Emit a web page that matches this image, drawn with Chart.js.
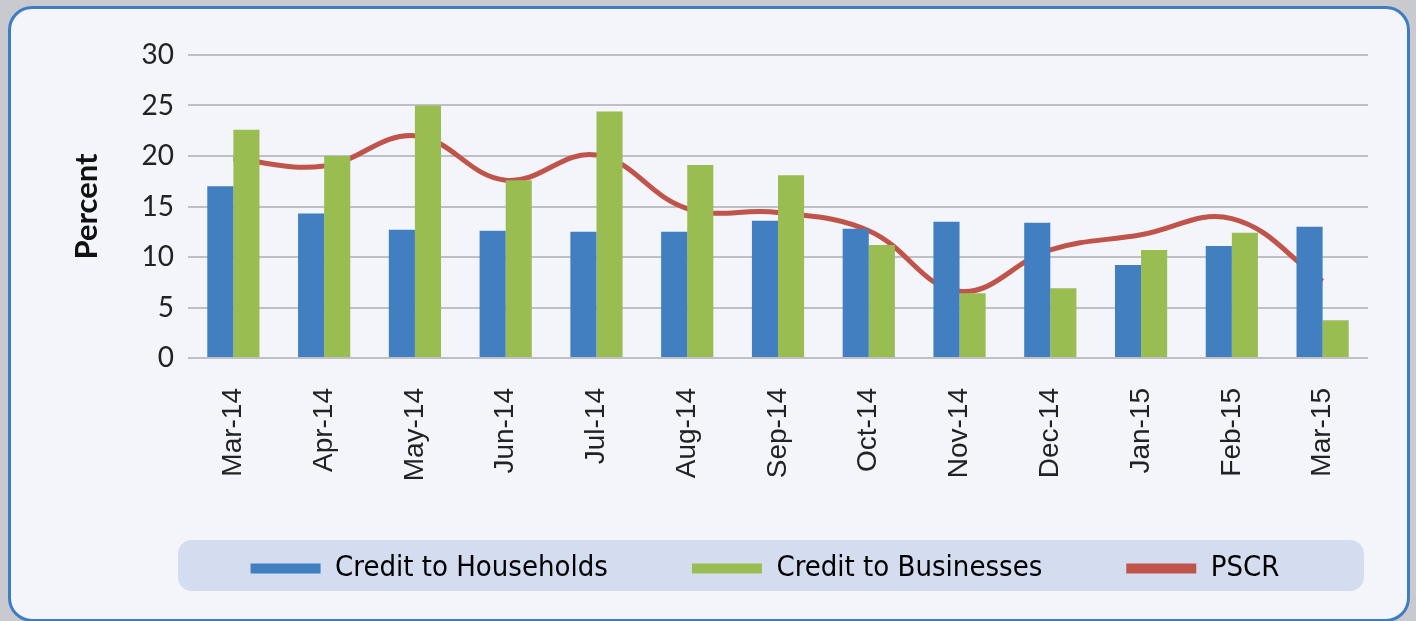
<!DOCTYPE html>
<html>
<head>
<meta charset="utf-8">
<script src="https://cdn.jsdelivr.net/npm/chart.js@4.4.1/dist/chart.umd.min.js"></script>
<style>
  html, body { margin: 0; padding: 0; width: 1416px; height: 621px; overflow: hidden; background: #c9cacf; }
  #frame { position: absolute; left: 8px; top: 6px; width: 1396px; height: 610px; border: 3.5px solid #3f7dc3; border-radius: 24px; background: #f3f5fa; }
  #wrap { position: absolute; left: 0; top: 0; width: 1416px; height: 621px; }
</style>
</head>
<body>
<div id="frame"></div>
<div id="wrap"><canvas id="c" width="1416" height="621"></canvas></div>
<script>
const categories = ["Mar-14","Apr-14","May-14","Jun-14","Jul-14","Aug-14","Sep-14","Oct-14","Nov-14","Dec-14","Jan-15","Feb-15","Mar-15"];
const households = [17.0, 14.3, 12.7, 12.6, 12.5, 12.5, 13.6, 12.8, 13.5, 13.4, 9.2, 11.1, 13.0];
const businesses = [22.6, 20.0, 25.0, 17.6, 24.4, 19.1, 18.1, 11.2, 6.4, 6.9, 10.7, 12.4, 3.75];
const pscr = [19.7, 19.0, 22.0, 17.6, 20.1, 14.8, 14.4, 12.6, 6.6, 10.7, 12.2, 13.8, 7.6];
const yTicks = [0, 5, 10, 15, 20, 25, 30];

// Legend panel: rounded background, legend row re-centred inside it
const legendPanel = {
  id: 'legendPanel',
  beforeDraw(chart) {
    const ctx = chart.ctx, ca = chart.chartArea, lg = chart.legend;
    const x = ca.left - 10, y = 540, w = (ca.right - 4) - x, h = 51, r = 14;
    ctx.save();
    ctx.fillStyle = '#d4ddef';
    ctx.beginPath();
    ctx.roundRect(x, y, w, h, r);
    ctx.fill();
    ctx.restore();
    const lh = lg.bottom - lg.top;
    lg.left = ca.left - 26;
    lg.right = ca.right;
    lg.top = 470;
    lg.bottom = 470 + lh;
  }
};

new Chart(document.getElementById('c'), {
  data: {
    labels: categories,
    datasets: [
      { type: 'bar', label: 'Credit to Households', data: households, backgroundColor: '#417fc1', order: 1,
        categoryPercentage: 0.575, barPercentage: 1.0 },
      { type: 'bar', label: 'Credit to Businesses', data: businesses, backgroundColor: '#99bd50', order: 1,
        categoryPercentage: 0.575, barPercentage: 1.0 },
      { type: 'line', label: 'PSCR', data: pscr, borderColor: '#c0544a', backgroundColor: '#c0544a', borderWidth: 5,
        pointRadius: 0, tension: 0.4, order: 2, fill: false }
    ]
  },
  options: {
    responsive: false,
    animation: false,
    devicePixelRatio: 1,
    layout: { padding: { left: 0, right: 48, top: 55, bottom: 15 } },
    plugins: {
      tooltip: { enabled: false },
      legend: {
        position: 'bottom',
        labels: {
          boxWidth: 70, boxHeight: 10, padding: 84,
          color: '#222',
          font: { family: 'DejaVu Sans Condensed', size: 29 },
          generateLabels(chart) {
            return chart.data.datasets.map((d, i) => ({
              text: d.label, fillStyle: d.backgroundColor, strokeStyle: d.backgroundColor,
              lineWidth: 0, datasetIndex: i, hidden: false
            }));
          }
        }
      }
    },
    scales: {
      x: {
        grid: { display: false },
        border: { display: false },
        ticks: { minRotation: 90, maxRotation: 90, color: '#222', padding: 22,
                 font: { family: 'Liberation Sans', size: 28 } },
        afterFit(scale) { scale.height = 125; }
      },
      y: {
        min: 0, max: 30,
        afterBuildTicks(scale) { scale.ticks = yTicks.map(v => ({ value: v })); },
        grid: { color: '#bfc0c5', lineWidth: 2, drawTicks: false },
        border: { display: false },
        ticks: { color: '#222', padding: 14, font: { family: 'Lato', size: 28 } },
        title: { display: true, text: 'Percent', color: '#111', font: { family: 'Lato', size: 31, weight: 'bold' },
                 padding: { top: 68, bottom: 0 } },
        afterFit(scale) { scale.width = 188; }
      }
    }
  },
  plugins: [legendPanel]
});
</script>
</body>
</html>
